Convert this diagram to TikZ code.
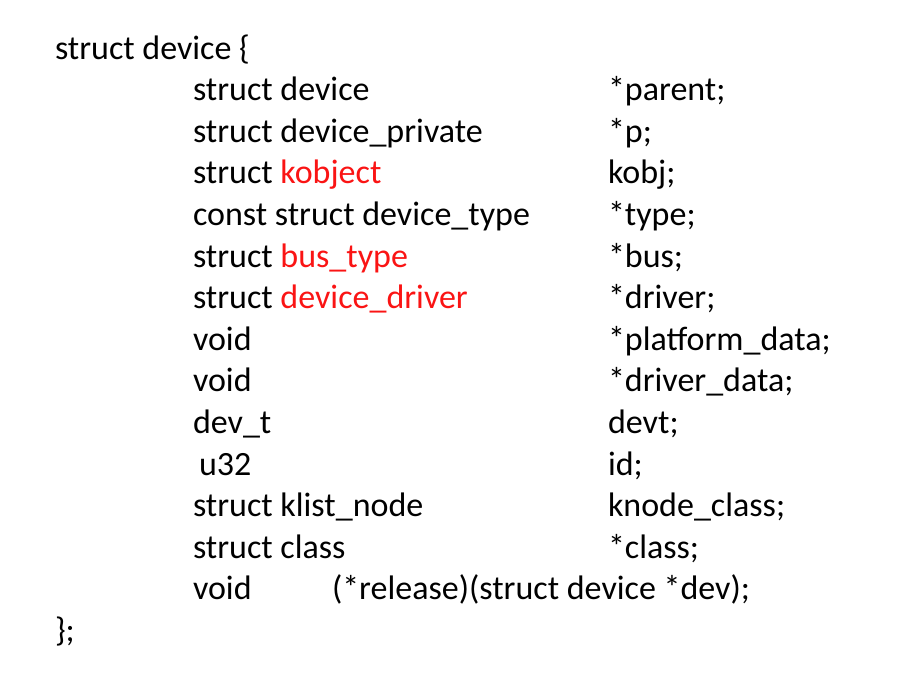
\documentclass[tikz,border=0pt]{standalone}
\usepackage{fontspec}
\setmainfont{Carlito}
\definecolor{kred}{RGB}{250,20,20}
\begin{document}
\begin{tikzpicture}[x=1pt,y=-1pt,
  code/.style={anchor=base west,inner sep=0pt,outer sep=0pt,font=\fontsize{34}{36}\selectfont},
  hl/.style={text=kred}]
\useasboundingbox (0,0) rectangle (901,675);
\def\ls{41.6}
\node[code] (head) at (55,59) {struct device \{};
% column 2 and 3
\node[code] (t1) at (193,{59+1*\ls}) {struct device};
\node[code] (n1) at (608,{59+1*\ls}) {*parent;};
\node[code] (t2) at (193,{59+2*\ls}) {struct device\_private};
\node[code] (n2) at (608,{59+2*\ls}) {*p;};
\node[code] (t3) at (193,{59+3*\ls}) {struct \textcolor{kred}{kobject}};
\node[code] (n3) at (608,{59+3*\ls}) {kobj;};
\node[code] (t4) at (193,{59+4*\ls}) {const struct device\_type};
\node[code] (n4) at (608,{59+4*\ls}) {*type;};
\node[code] (t5) at (193,{59+5*\ls}) {struct \textcolor{kred}{bus\_type}};
\node[code] (n5) at (608,{59+5*\ls}) {*bus;};
\node[code] (t6) at (193,{59+6*\ls}) {struct \textcolor{kred}{device\_driver}};
\node[code] (n6) at (608,{59+6*\ls}) {*driver;};
\node[code] (t7) at (193,{59+7*\ls}) {void};
\node[code] (n7) at (608,{59+7*\ls}) {*platform\_data;};
\node[code] (t8) at (193,{59+8*\ls}) {void};
\node[code] (n8) at (608,{59+8*\ls}) {*driver\_data;};
\node[code] (t9) at (193,{59+9*\ls}) {dev\_t};
\node[code] (n9) at (608,{59+9*\ls}) {devt;};
\node[code] (t10) at (199,{59+10*\ls}) {u32};
\node[code] (n10) at (608,{59+10*\ls}) {id;};
\node[code] (t11) at (193,{59+11*\ls}) {struct klist\_node};
\node[code] (n11) at (608,{59+11*\ls}) {knode\_class;};
\node[code] (t12) at (193,{59+12*\ls}) {struct class};
\node[code] (n12) at (608,{59+12*\ls}) {*class;};
\node[code] (t13) at (193,{59+13*\ls}) {void};
\node[code] (n13) at (332,{59+13*\ls}) {(*release)(struct device *dev);};
\node[code] (tail) at (55,{59+14*\ls}) {\};};
\end{tikzpicture}
\end{document}
